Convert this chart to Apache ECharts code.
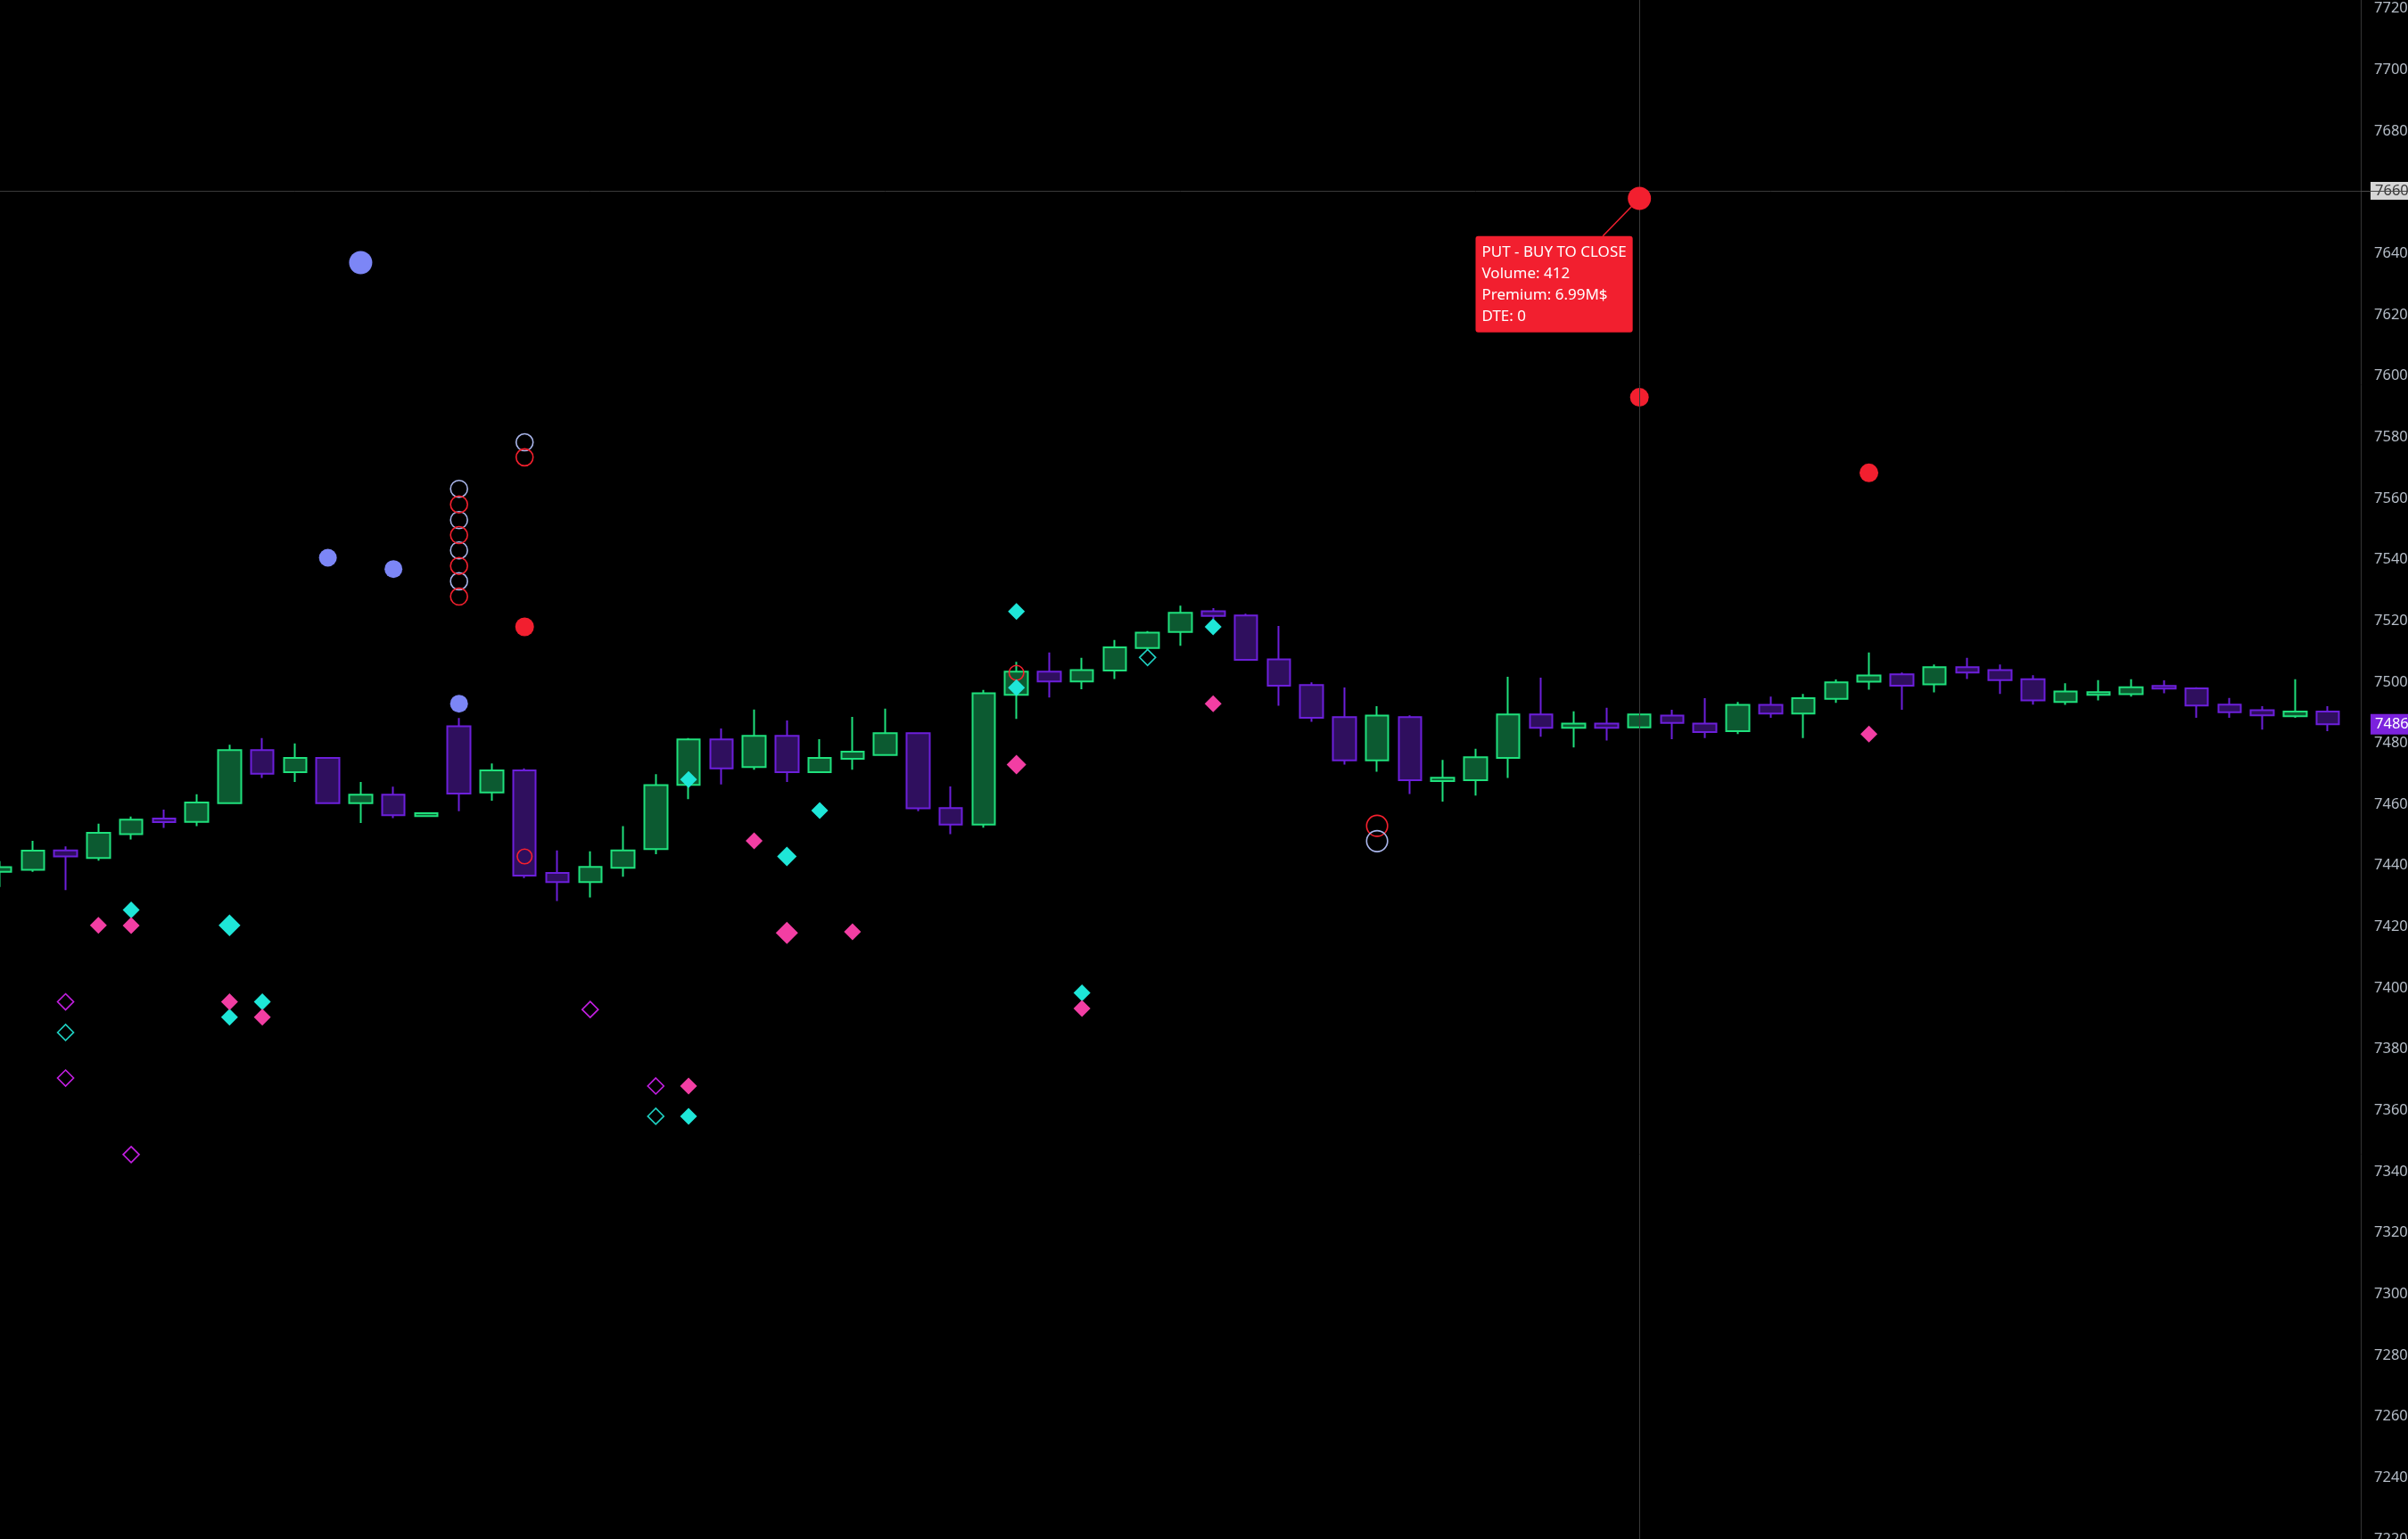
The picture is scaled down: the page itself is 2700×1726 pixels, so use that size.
<!DOCTYPE html>
<html>
<head>
<meta charset="utf-8">
<script src="https://cdn.jsdelivr.net/npm/echarts@6/dist/echarts.min.js"></script>
<style>
html,body{margin:0;padding:0;background:#000;overflow:hidden;}
#chart{width:2700px;height:1726px;}
</style>
</head>
<body>
<div id="chart"></div>
<script>
// ---- candles: [open, high, low, close] ----
const candles = [
  [7438.0,7441.5,7433.0,7439.5],[7438.6,7448.1,7438.0,7444.9],[7445.0,7446.3,7432.0,7443.0],
  [7442.5,7453.7,7441.6,7450.7],[7450.3,7456.0,7448.5,7455.0],[7455.4,7458.3,7452.3,7454.2],
  [7454.3,7463.3,7452.9,7460.6],[7460.4,7479.5,7460.2,7477.7],[7477.7,7481.7,7468.6,7470.0],
  [7470.5,7479.9,7467.3,7475.2],[7475.2,7475.4,7460.2,7460.4],[7460.4,7467.3,7453.9,7463.2],
  [7463.2,7465.8,7455.5,7456.5],[7456.2,7457.3,7456.0,7457.1],[7485.5,7488.2,7457.8,7463.5],
  [7463.9,7473.4,7461.2,7471.1],[7471.1,7471.8,7435.9,7436.7],[7437.6,7445.0,7428.4,7434.6],
  [7434.6,7444.7,7429.6,7439.6],[7439.3,7452.9,7436.4,7445.0],[7445.4,7469.9,7443.7,7466.3],
  [7466.4,7481.7,7461.7,7481.2],[7481.2,7484.8,7466.5,7471.8],[7472.2,7491.0,7471.3,7482.4],
  [7482.4,7487.4,7467.3,7470.5],[7470.5,7481.3,7470.3,7475.2],[7474.9,7488.6,7471.3,7477.2],
  [7476.1,7491.3,7476.0,7483.3],[7483.3,7483.5,7457.8,7458.7],[7458.8,7465.9,7450.3,7453.4],
  [7453.4,7497.4,7452.4,7496.3],[7495.8,7506.6,7487.9,7503.4],[7503.4,7509.6,7494.9,7500.2],
  [7500.2,7507.9,7497.6,7503.9],[7503.7,7513.7,7501.0,7511.3],[7511.1,7516.6,7510.5,7516.1],
  [7516.3,7524.9,7511.8,7522.6],[7523.1,7524.1,7520.5,7521.6],[7521.7,7522.3,7507.0,7507.2],
  [7507.4,7518.3,7492.2,7498.8],[7499.0,7499.9,7487.0,7488.3],[7488.5,7498.2,7473.0,7474.4],
  [7474.4,7492.1,7470.7,7489.0],[7488.5,7489.1,7463.4,7467.9],[7467.6,7474.5,7460.9,7468.7],
  [7467.9,7478.2,7462.9,7475.4],[7475.2,7501.7,7468.6,7489.4],[7489.4,7501.4,7482.1,7485.0],
  [7485.0,7490.4,7478.6,7486.4],[7486.4,7491.6,7480.9,7485.0],[7485.2,7489.6,7485.0,7489.4],
  [7489.0,7490.9,7481.3,7486.6],[7486.4,7494.7,7481.7,7483.6],[7483.9,7493.5,7483.0,7492.5],
  [7492.5,7495.2,7488.3,7489.7],[7489.7,7496.1,7481.7,7494.7],[7494.5,7500.8,7493.2,7499.9],
  [7500.1,7509.6,7497.5,7502.1],[7502.5,7503.1,7490.9,7498.8],[7499.2,7505.7,7496.6,7504.8],
  [7504.8,7507.9,7501.0,7503.1],[7503.9,7505.7,7496.1,7500.6],[7500.9,7502.2,7492.6,7494.0],
  [7493.5,7499.6,7492.5,7496.9],[7495.8,7500.6,7494.0,7496.7],[7496.0,7500.9,7495.2,7498.3],
  [7498.7,7500.5,7496.3,7497.8],[7497.9,7498.3,7488.3,7492.3],[7492.6,7494.8,7488.3,7490.1],
  [7490.8,7492.1,7484.4,7489.1],[7488.8,7500.9,7488.3,7490.3],[7490.3,7492.1,7483.9,7486.2]
];

// ---- option-flow markers: [bar index, price] ----
const blueDots      = [[10,7540.6],[12,7536.9],[14,7492.9]];
const blueDotsBig   = [[11,7637.0]];
const redDots       = [[16,7518.0],[50,7593.0],[57,7568.3]];
const redDotFocus   = [[50,7658.0]];
const greyRings     = [[14,7563.1],[14,7552.9],[14,7543.0],[14,7532.9],[16,7578.3]];
const redRings      = [[14,7558.0],[14,7548.0],[14,7537.9],[14,7527.9],[16,7573.4]];
const redRingsSmall = [[16,7443.0],[31,7503.0]];
const redRingsBig   = [[42,7453.0]];
const greyRingsBig  = [[42,7448.0]];
const cyanDiamonds  = [[4,7425.5],[7,7390.5],[8,7395.5],[21,7468.1],[21,7358.1],[25,7458.0],
                       [31,7523.0],[31,7498.1],[33,7398.4],[37,7518.0]];
const cyanDiamondsMid = [[24,7443.0]];
const cyanDiamondsBig = [[7,7420.5]];
const pinkDiamonds  = [[3,7420.5],[4,7420.4],[7,7395.5],[8,7390.5],[21,7368.0],[23,7448.1],
                       [26,7418.4],[33,7393.3],[37,7492.9],[57,7483.0]];
const pinkDiamondsMid = [[31,7473.0]];
const pinkDiamondsBig = [[24,7418.0]];
const purpleOutlineDiamonds = [[2,7395.5],[2,7370.6],[4,7345.6],[18,7393.0],[20,7368.0]];
const cyanOutlineDiamonds   = [[2,7385.5],[20,7358.1],[35,7508.0]];

// ---- crosshair / labels ----
const crosshairIndex = 50;
const crosshairPrice = 7660.45;
const crosshairLabel = '7660';
const tooltipLines = ['PUT - BUY TO CLOSE', 'Volume: 412', 'Premium: 6.99M$', 'DTE: 0'];

// ---- axis ----
const yMin = 7220, yMax = 7722.8, yStep = 20;
const categories = candles.map((_, i) => String(i)).concat([String(candles.length)]);
const lastIndex = candles.length;
const lastClose = candles[candles.length - 1][3];

const FONT = "'Noto Sans', 'Open Sans', sans-serif";
const RED = '#f21f2f';
const CROSS = '#3a3a3a';

function filled(name, data, symbol, size, color, z) {
  return { type: 'scatter', name, data, symbol, symbolSize: size, silent: true,
           itemStyle: { color, opacity: 1 }, z: z || 3 };
}
function outlined(name, data, symbol, size, color, z) {
  return { type: 'scatter', name, data, symbol, symbolSize: size, silent: true,
           itemStyle: { color: 'rgba(0,0,0,0)', borderColor: color, borderWidth: 1.6, opacity: 1 }, z: z || 3 };
}

const chart = echarts.init(document.getElementById('chart'), null, { renderer: 'canvas' });

const option = {
  backgroundColor: '#000000',
  animation: false,
  grid: { left: 0, right: 53, top: 0, bottom: 0, containLabel: false, outerBoundsMode: 'none' },
  xAxis: {
    type: 'category', data: categories, boundaryGap: false, show: false
  },
  yAxis: {
    type: 'value', position: 'right', min: yMin, max: yMax, interval: yStep,
    axisLine: { show: true, lineStyle: { color: '#343434', width: 1 } },
    axisTick: { show: false },
    splitLine: { show: false },
    axisLabel: {
      color: '#b4bcc6', fontSize: 16.5, fontFamily: FONT, margin: 15,
      formatter: v => (Math.abs(v % yStep) < 1e-6 ? String(Math.round(v)) : '')
    }
  },
  series: [
    {
      type: 'candlestick', name: 'price',
      data: candles.map(([o, h, l, c]) => [o, c, l, h]),
      barWidth: 26,
      itemStyle: {
        color: '#0c5a31', color0: '#2f0f5e',
        borderColor: '#1fe07c', borderColor0: '#6c1fda',
        borderWidth: 2
      },
      silent: true, z: 2
    },
    // helper: crosshair + last price label
    {
      type: 'scatter', name: 'helper', data: [[lastIndex, lastClose]],
      symbolSize: 0, clip: false, silent: true, z: 1,
      itemStyle: { opacity: 1 },
      label: {
        show: true, position: 'right', distance: 11,
        formatter: p => String(Math.round(p.value[1])),
        backgroundColor: '#7b22dd', color: '#ffffff',
        fontSize: 16.5, fontFamily: FONT, lineHeight: 17, padding: [3, 5, 3, 5]
      },
      markLine: {
        silent: true, symbol: ['none', 'none'], animation: false,
        lineStyle: { color: CROSS, width: 1, type: 'solid' },
        label: { show: false },
        emphasis: { disabled: true },
        data: [
          { xAxis: crosshairIndex },
          { yAxis: crosshairPrice,
            label: { show: true, position: 'end', distance: 11, formatter: crosshairLabel,
                     backgroundColor: '#d6d6d6', color: '#3a3a3a', fontSize: 16.5,
                     fontFamily: FONT, lineHeight: 16, padding: [2, 5, 2, 5] } }
        ]
      }
    },
    outlined('greyRings', greyRings, 'circle', 19, '#aab6ec', 3),
    outlined('redRings', redRings, 'circle', 19, '#f5202e', 3),
    outlined('redRingsSmall', redRingsSmall, 'circle', 16.5, '#f5202e', 3),
    outlined('redRingsBig', redRingsBig, 'circle', 23.5, '#f5202e', 3),
    outlined('greyRingsBig', greyRingsBig, 'circle', 23.5, '#aab6ec', 3),
    filled('blueDots', blueDots, 'circle', 20, '#7c86f6', 4),
    filled('blueDotsBig', blueDotsBig, 'circle', 26, '#7c86f6', 4),
    filled('redDots', redDots, 'circle', 21, RED, 4),
    filled('cyanDiamonds', cyanDiamonds, 'diamond', 19, '#1ee6d8', 5),
    filled('cyanDiamondsMid', cyanDiamondsMid, 'diamond', 22, '#1ee6d8', 5),
    filled('cyanDiamondsBig', cyanDiamondsBig, 'diamond', 24.5, '#1ee6d8', 5),
    filled('pinkDiamonds', pinkDiamonds, 'diamond', 19, '#f23ea3', 6),
    filled('pinkDiamondsMid', pinkDiamondsMid, 'diamond', 22, '#f23ea3', 6),
    filled('pinkDiamondsBig', pinkDiamondsBig, 'diamond', 25, '#f23ea3', 6),
    outlined('purpleOutlineDiamonds', purpleOutlineDiamonds, 'diamond', 18, '#c51fe4', 6),
    outlined('cyanOutlineDiamonds', cyanOutlineDiamonds, 'diamond', 18, '#1fcfc0', 6),
    {
      type: 'scatter', name: 'focus', data: redDotFocus, symbol: 'circle', symbolSize: 26,
      silent: true, z: 8, clip: false,
      itemStyle: { color: RED, opacity: 1 },
      label: {
        show: true, position: 'inside',
        formatter: tooltipLines.join('\n'),
        color: '#ffffff', fontSize: 17, fontFamily: FONT, lineHeight: 24,
        backgroundColor: RED, borderRadius: 3, padding: [6, 7, 6, 7],
        align: 'left', verticalAlign: 'top'
      },
      labelLayout: { dx: -183.7, dy: 42.3, align: 'left', verticalAlign: 'top' }
    }
  ]
};

chart.setOption(option);

// connector from the focused trade to its label box (offset matches the label layout above),
// and the crosshair's horizontal line continuing across the price-scale label
const fp = chart.convertToPixel({ gridIndex: 0 }, redDotFocus[0]);
const hp = chart.convertToPixel({ gridIndex: 0 }, [lastIndex, crosshairPrice]);
const yLine = Math.round(hp[1]) + 0.5;
chart.setOption({
  graphic: [
    {
      type: 'line', silent: true, z: 7,
      shape: { x1: fp[0], y1: fp[1], x2: fp[0] - 41, y2: fp[1] + 42.3 },
      style: { stroke: RED, lineWidth: 1.5 }
    },
    {
      type: 'line', silent: true, z: 100,
      shape: { x1: hp[0], y1: yLine, x2: chart.getWidth(), y2: yLine },
      style: { stroke: '#4a4a4a', lineWidth: 1 }
    }
  ]
});
</script>
</body>
</html>
